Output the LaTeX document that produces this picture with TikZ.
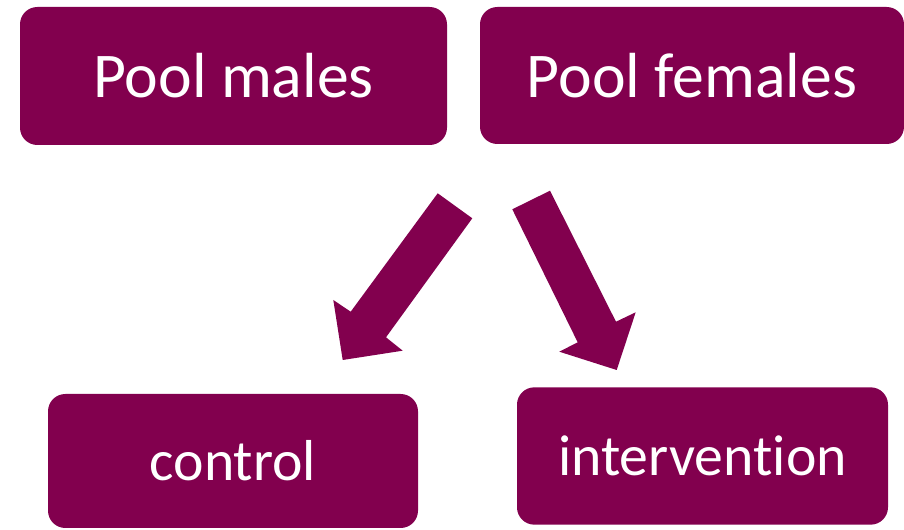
\documentclass[tikz,border=0pt]{standalone}
\usepackage{fontspec}
\setmainfont{Carlito}[RawFeature={-liga}]
\definecolor{plum}{RGB}{130,0,78}
\begin{document}
\begin{tikzpicture}[x=0.75pt,y=-0.75pt,
  box/.style={fill=plum,draw=none,rounded corners=13pt,inner sep=0pt,text=white,anchor=center},
  bigtext/.style={font=\fontsize{47.8}{50}\selectfont},
  smalltext/.style={font=\fontsize{43.3}{46}\selectfont},
  blockarrow/.style={fill=plum,draw=none}]
\useasboundingbox (0,0) rectangle (904,530);
\node[box,bigtext,minimum width=320.25pt,minimum height=103.5pt] (males) at (233.5,76) {Pool males};
\node[box,bigtext,minimum width=318pt,minimum height=102.75pt] (females) at (692,75.5) {Pool females};
\node[box,smalltext,minimum width=277.5pt,minimum height=100.5pt] (control) at (233,461) {control};
\node[box,smalltext,minimum width=278.25pt,minimum height=103pt] (interv) at (702.5,456) {intervention};
% left block arrow
\fill[blockarrow] (437.7,193.3) -- (472.3,218.3) -- (386,337.3) -- (402.7,350.7) -- (342.7,360) -- (333.3,300) -- (350.7,311.7) -- cycle;
% right block arrow
\fill[blockarrow] (512.3,209.3) -- (550,190.7) -- (616,321.7) -- (635.7,312.3) -- (616.7,370) -- (559.3,351.7) -- (577.7,342.3) -- cycle;
\end{tikzpicture}
\end{document}
